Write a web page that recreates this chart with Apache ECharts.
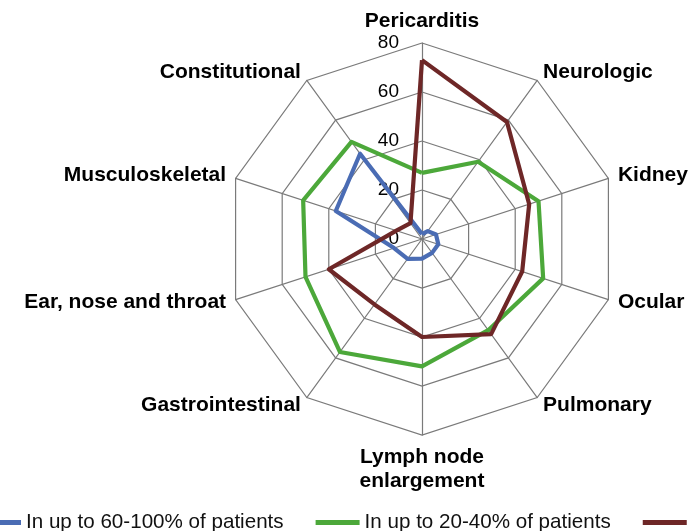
<!DOCTYPE html>
<html>
<head>
<meta charset="utf-8">
<script src="https://cdn.jsdelivr.net/npm/echarts@6/dist/echarts.min.js"></script>
<style>
  html, body { margin: 0; padding: 0; background: #fff; }
  #chart { width: 690px; height: 531px; }
</style>
</head>
<body>
<div id="chart"></div>
<script>
// categories listed clockwise, starting at the top
const categories = ['Pericarditis', 'Neurologic', 'Kidney', 'Ocular', 'Pulmonary',
  'Lymph node\nenlargement', 'Gastrointestinal', 'Ear, nose and throat', 'Musculoskeletal', 'Constitutional'];
const seriesNames = ['In up to 60-100% of patients', 'In up to 20-40% of patients', 'In up to 10-20% of patients'];
const highValues = [2, 4, 6, 7, 7, 8, 10, 12, 37, 43];
const midValues = [27, 39, 50, 52, 46, 52, 57, 50, 51, 49];
const lowValues = [73, 59, 46, 43, 48, 40, 33, 40, 11, 8];
const ticks = [0, 20, 40, 60, 80];
const colors = ['#4a6cb4', '#4ca83a', '#6e2727'];

// echarts places radar indicators counter-clockwise, so flip the order after the first
const order = categories.map((_, i) => (categories.length - i) % categories.length);
const pick = arr => order.map(i => arr[i]);
const maxVal = ticks[ticks.length - 1];

const chart = echarts.init(document.getElementById('chart'));

function makeSeries(name, values, color) {
  return {
    type: 'radar',
    radarIndex: 0,
    name: name,
    symbol: 'none',
    lineStyle: { color: color, width: 4.2 },
    itemStyle: { color: color },
    data: [{ name: name, value: pick(values) }]
  };
}

const option = {
  animation: false,
  legend: {
    left: -28,
    top: 507,
    width: 1400,
    itemGap: 32,
    itemWidth: 44,
    itemHeight: 5,
    icon: 'rect',
    textStyle: { fontFamily: 'Liberation Sans', fontSize: 20.6, color: '#111' },
    data: seriesNames
  },
  radar: [
    {
      center: [422, 239],
      radius: 196,
      startAngle: 90,
      shape: 'polygon',
      splitNumber: ticks.length - 1,
      indicator: pick(categories).map(n => ({ name: n, min: ticks[0], max: maxVal })),
      nameGap: 10,
      axisName: {
        color: '#000',
        fontWeight: 'bold',
        fontSize: 21,
        fontFamily: 'Liberation Sans',
        lineHeight: 24
      },
      splitLine: { lineStyle: { color: '#7a7a7a', width: 1.2 } },
      splitArea: { show: false },
      axisLine: { lineStyle: { color: '#7a7a7a', width: 1.2 } },
      axisTick: { show: false },
      axisLabel: { show: false }
    },
    {
      // one-axis radar just to carry the 0..80 labels on the top spoke
      center: [422, 239],
      radius: 196,
      startAngle: 90,
      shape: 'polygon',
      splitNumber: ticks.length - 1,
      indicator: [{ name: '', min: ticks[0], max: maxVal }],
      axisName: { show: false },
      splitLine: { show: false },
      splitArea: { show: false },
      axisLine: { show: false },
      axisTick: { show: false },
      axisLabel: { show: true, margin: 23, color: '#000', fontSize: 19, fontFamily: 'Liberation Sans' }
    }
  ],
  series: [
    makeSeries(seriesNames[0], highValues, colors[0]),
    makeSeries(seriesNames[1], midValues, colors[1]),
    makeSeries(seriesNames[2], lowValues, colors[2])
  ]
};

chart.setOption(option);
</script>
</body>
</html>
